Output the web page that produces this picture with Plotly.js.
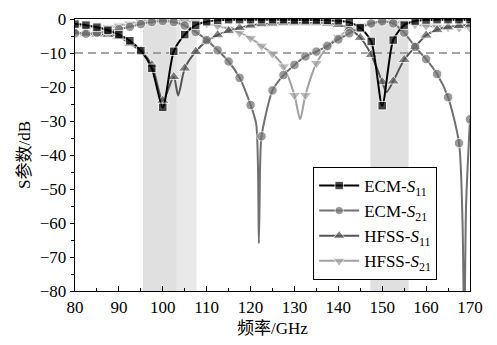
<!DOCTYPE html>
<html>
<head>
<meta charset="utf-8">
<script src="https://cdn.plot.ly/plotly-3.0.1.min.js"></script>
<style>html,body{margin:0;padding:0;background:#fff;}#chart{width:497px;height:345px;}</style>
</head>
<body>
<div id="chart"></div>
<script>
// Frequency grid (GHz) where markers are drawn
const freq = [80, 82.5, 85, 87.5, 90, 92.5, 95, 97.5, 100, 102.5, 105, 107.5, 110, 112.5, 115, 117.5, 120, 122.5, 125, 127.5, 130, 132.5, 135, 137.5, 140, 142.5, 145, 147.5, 150, 152.5, 155, 157.5, 160, 162.5, 165, 167.5, 170];

const ecmS11 = [-1.5, -1.8, -2.4, -3.3, -4.6, -6.4, -9.3, -14.5, -26, -9.5, -4.6, -1.8, -0.8, -0.4, -0.2, -0.2, -0.2, -0.2, -0.2, -0.2, -0.3, -0.3, -0.3, -0.4, -0.5, -1.0, -2.6, -6.6, -25.5, -6.2, -1.8, -0.6, -0.3, -0.2, -0.2, -0.2, -0.2];
const ecmS21 = [-4.2, -4.3, -4.0, -3.6, -3.0, -2.3, -1.5, -0.9, -0.6, -0.9, -1.9, -3.8, -6.2, -9.2, -12.5, -17.3, -25.3, -34.5, -21, -16.5, -13.5, -11, -9.6, -7.9, -6, -4.2, -2.5, -1.3, -0.7, -1.3, -4, -8.2, -11.8, -16.2, -23, -36.5, -29.5];
const hfssS11 = [-3.8, -4.3, -4.5, -4.6, -5.2, -7.2, -9.4, -13.5, -24, -17, -14.5, -9.6, -6.5, -4.7, -3.5, -2.6, -1.9, -1.5, -1.3, -1.2, -1.2, -1.2, -1.2, -1.3, -1.7, -2.8, -5.5, -10.5, -18.5, -18.3, -12, -8.2, -4.8, -3.2, -2.4, -2.0, -1.8];
const hfssS21 = [-2, -2.3, -2.6, -2.5, -2.0, -1.4, -0.8, -0.3, -0.1, -0.3, -0.6, -0.8, -1.3, -2.0, -2.9, -4.0, -5.6, -7.9, -10.2, -14, -22.4, -22.4, -13, -8.2, -5.3, -3.2, -2.0, -1.2, -0.7, -0.7, -1.1, -1.6, -2.0, -2.3, -2.5, -2.6, -2.6];

// Resonance minima (drawn as line only, no marker)
const ecmS11DipF = [];
const ecmS11DipV = [];
const ecmS21DipF = [121.3, 121.9, 122.2, 168.3, 168.7, 169.1];
const ecmS21DipV = [-31, -66, -42, -60, -95, -55];
const hfssS11DipF = [103.5, 151];
const hfssS11DipV = [-22.5, -21.5];
const hfssS21DipF = [131.3];
const hfssS21DipV = [-29.5];

const seriesNames = ['ECM-<i>S</i><sub>11</sub>', 'ECM-<i>S</i><sub>21</sub>', 'HFSS-<i>S</i><sub>11</sub>', 'HFSS-<i>S</i><sub>21</sub>'];

// Shaded pass bands (GHz)
const bandStarts = [95.5, 103.2, 147.3];
const bandEnds = [103.2, 107.7, 156.0];
const bandColors = ['#e0e0e0', '#e9e9e9', '#e0e0e0'];
const refLevel = -10;

function merge(vals, df, dv, msize) {
  const pts = freq.map((f, i) => [f, vals[i], msize]);
  df.forEach((f, i) => pts.push([f, dv[i], 0]));
  pts.sort((a, b) => a[0] - b[0]);
  return {x: pts.map(p => p[0]), y: pts.map(p => p[1]), s: pts.map(p => p[2])};
}

function mk(vals, df, dv, name, color, symbol, msize, rank) {
  const m = merge(vals, df, dv, msize);
  return {
    x: m.x, y: m.y, name: name, type: 'scatter', mode: 'lines+markers',
    line: {color: color, width: 2, shape: 'spline', smoothing: 0.7},
    marker: {color: color, symbol: symbol, size: m.s},
    legendrank: rank
  };
}

const traces = [
  mk(hfssS21, hfssS21DipF, hfssS21DipV, seriesNames[3], '#a0a0a0', 'triangle-down', 11, 4),
  mk(hfssS11, hfssS11DipF, hfssS11DipV, seriesNames[2], '#555555', 'triangle-up', 11, 3),
  mk(ecmS21, ecmS21DipF, ecmS21DipV, seriesNames[1], '#707070', 'circle', 9.5, 2),
  mk(ecmS11, ecmS11DipF, ecmS11DipV, seriesNames[0], '#000000', 'square', 8.5, 1)
];

const shapes = bandStarts.map((s, i) => ({
  type: 'rect', xref: 'x', yref: 'paper', x0: s, x1: bandEnds[i], y0: 0, y1: 1,
  fillcolor: bandColors[i], line: {width: 0}, layer: 'below'
}));
shapes.push({
  type: 'line', xref: 'paper', yref: 'y', x0: 0, x1: 1, y0: refLevel, y1: refLevel,
  line: {color: '#888888', width: 1.5, dash: '8px,5px'}, layer: 'below'
});

const fontFam = 'Liberation Serif, Noto Sans CJK SC, serif';
const layout = {
  width: 497, height: 345,
  margin: {l: 75, r: 27, t: 19, b: 54},
  paper_bgcolor: '#ffffff', plot_bgcolor: '#ffffff',
  font: {family: fontFam, size: 17, color: '#000'},
  showlegend: true,
  legend: {
    x: 0.603, y: 0.456, xanchor: 'left', yanchor: 'top',
    bgcolor: '#ffffff', bordercolor: '#000', borderwidth: 1,
    font: {family: fontFam, size: 17, color: '#000'},
    itemwidth: 40, tracegroupgap: 0
  },
  xaxis: {
    range: [80, 170], dtick: 10, tick0: 80, showgrid: false, zeroline: false,
    showline: true, linecolor: '#000', linewidth: 1.3, mirror: true,
    ticks: 'inside', ticklen: 5, tickcolor: '#000',
    minor: {dtick: 5, ticks: 'inside', ticklen: 3, tickcolor: '#000'},
    title: {text: '频率/GHz', font: {family: fontFam, size: 17}, standoff: 6},
    tickfont: {family: fontFam, size: 17}
  },
  yaxis: {
    range: [-80, 0], dtick: 10, showgrid: false, zeroline: false,
    showline: true, linecolor: '#000', linewidth: 1.3, mirror: true,
    ticks: 'outside', ticklen: 4, tickcolor: '#000',
    minor: {dtick: 5, ticks: 'outside', ticklen: 3, tickcolor: '#000'},
    title: {text: 'S参数/dB', font: {family: fontFam, size: 17}, standoff: 4},
    tickfont: {family: fontFam, size: 17}
  },
  shapes: shapes
};

Plotly.newPlot('chart', traces, layout, {displayModeBar: false, staticPlot: true});
</script>
</body>
</html>
